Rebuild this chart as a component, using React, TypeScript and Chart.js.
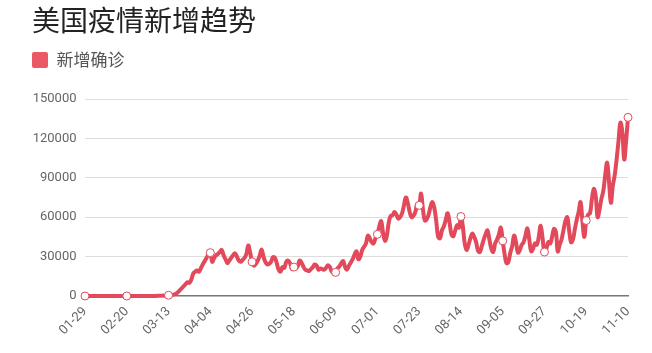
import React, { useEffect, useRef } from "react";
import { Chart, registerables } from "chart.js";

Chart.register(...registerables);

// Daily new confirmed cases (USA), 2020-01-29 .. 2020-11-10
const janStart = 29;
const jan = [0, 1, 1];
const feb = [0, 1, 0, 2, 0, 0, 0, 0, 1, 0, 0, 0, 0, 0, 0, 1, 0, 0, 0, 0, 2, 0, 0, 1, 0, 1, 3, 2, 7];
const mar = [12, 20, 22, 32, 70, 68, 110, 120, 200, 290, 280, 420, 550, 700, 800, 1300, 1800, 3000, 4500, 6000, 7500, 9000, 10500, 10000, 12500, 17000, 18500, 19500, 18500, 21000, 24000];
const apr = [26500, 29000, 31500, 33000, 26000, 29000, 31000, 32000, 33500, 35000, 31000, 28000, 25000, 27000, 29000, 31000, 32500, 30000, 27000, 26000, 27500, 29000, 32000, 38500, 33000, 26000, 23000, 24500, 27000, 30500];
const may = [35500, 30000, 26000, 24000, 24500, 26000, 29500, 29000, 25000, 20000, 18500, 22000, 21500, 26000, 27000, 25000, 20500, 22000, 21000, 22500, 27000, 25500, 22500, 20000, 19500, 19000, 20500, 22000, 24000, 23000, 20000];
const jun = [21000, 20500, 20000, 21500, 23500, 22000, 18500, 17500, 18000, 21000, 22500, 25000, 26500, 22000, 20000, 23000, 25500, 28000, 31500, 34000, 28000, 30000, 35000, 37500, 40000, 46000, 44000, 41000, 40000, 44000];
const jul = [47000, 53000, 57000, 48000, 42000, 46000, 56000, 61000, 61500, 64000, 62000, 59000, 60000, 63000, 69000, 75000, 71000, 64000, 60000, 61000, 64000, 70000, 69000, 78000, 66000, 57500, 58500, 62000, 68000, 71500, 67000];
const aug = [57000, 45000, 44000, 50000, 53000, 58000, 63000, 56000, 47000, 45500, 50000, 54000, 52000, 60500, 53000, 40000, 35000, 39000, 44000, 47500, 45000, 41000, 34500, 33500, 38000, 43000, 47000, 50000, 43000, 36000, 33500];
const sep = [40000, 43000, 47000, 52000, 42000, 32000, 25000, 26000, 33000, 38000, 46000, 41000, 33000, 35000, 39000, 41000, 46000, 51500, 43000, 34000, 36000, 40000, 39000, 45000, 53500, 44000, 33500, 36000, 41000, 40000];
const oct = [45000, 51000, 49000, 34000, 39000, 43000, 50000, 57000, 60000, 50000, 41000, 43000, 51000, 58000, 64000, 71500, 57000, 45000, 57500, 62000, 63000, 74000, 81500, 76000, 60000, 66000, 74000, 80000, 92000, 101500, 87000];
const nov = [71000, 84000, 92000, 104000, 118000, 132000, 125000, 104000, 118000, 136000];

const months: [number, number[]][] = [
  [1, jan], [2, feb], [3, mar], [4, apr], [5, may], [6, jun],
  [7, jul], [8, aug], [9, sep], [10, oct], [11, nov],
];

const pad = (n: number) => (n < 10 ? "0" + n : String(n));
const labels: string[] = [];
const values: number[] = [];
months.forEach(([m, arr]) => {
  const start = m === 1 ? janStart : 1;
  arr.forEach((v, i) => {
    labels.push(pad(m) + "-" + pad(start + i));
    values.push(v);
  });
});

const yTicks = [0, 30000, 60000, 90000, 120000, 150000];
const labelEvery = 22;

const titleText = "美国疫情新增趋势";
const seriesName = "新增确诊";

const LINE = "#e24a5b";
const FILL = "#ec5966";
const FONT = "Roboto, 'Noto Sans CJK SC', sans-serif";
const CJK = "'Noto Sans CJK SC', sans-serif";

export default function App() {
  const ref = useRef<HTMLCanvasElement | null>(null);
  useEffect(() => {
    if (!ref.current) return;
    const chart = new Chart(ref.current, {
      type: "line",
      data: {
        labels,
        datasets: [
          {
            label: seriesName,
            data: values,
            borderColor: LINE,
            backgroundColor: FILL,
            borderWidth: 4,
            tension: 0.4,
            fill: false,
            clip: 8,
            pointRadius: (ctx: any) => (ctx.dataIndex % labelEvery === 0 ? 4 : 0),
            pointHoverRadius: (ctx: any) => (ctx.dataIndex % labelEvery === 0 ? 4 : 0),
            pointBackgroundColor: "#ffffff",
            pointBorderColor: LINE,
            pointBorderWidth: 1,
          } as any,
        ],
      },
      options: {
        animation: false,
        responsive: false,
        layout: { padding: { left: 32, right: 24, top: 0, bottom: 0 } },
        plugins: {
          title: {
            display: true,
            text: titleText,
            align: "start",
            color: "#222",
            font: { family: CJK, size: 28, weight: "normal" as any },
            padding: { top: 3.2, bottom: 14.6 },
          },
          subtitle: {
            display: true,
            text: " ",
            weight: 500,
            font: { size: 10 },
            padding: { top: 8.6, bottom: 0 },
          } as any,
          legend: {
            display: true,
            align: "start",
            labels: {
              boxWidth: 16,
              boxHeight: 16,
              padding: 0,
              color: "#555",
              font: { family: CJK, size: 17 },
              useBorderRadius: true,
              borderRadius: 2,
              generateLabels: (c: any) =>
                Chart.defaults.plugins.legend.labels
                  .generateLabels(c)
                  .map((l: any) => ({ ...l, lineWidth: 0, fillStyle: FILL })),
            } as any,
          },
          tooltip: { enabled: false },
        },
        scales: {
          x: {
            type: "category",
            offset: false,
            grid: { display: false },
            border: { display: true, color: "#777", width: 1.5 },
            ticks: {
              autoSkip: false,
              maxRotation: 45,
              minRotation: 45,
              color: "#666",
              padding: 0,
              font: { family: FONT, size: 13 },
              callback: (_v: any, i: number) => (i % labelEvery === 0 ? labels[i] : null),
            },
            afterFit: (s: any) => {
              s.height = 57;
            },
          },
          y: {
            min: yTicks[0],
            max: yTicks[yTicks.length - 1],
            border: { display: false },
            grid: {
              drawTicks: false,
              color: (ctx: any) => (ctx.tick && ctx.tick.value === 0 ? "rgba(0,0,0,0)" : "#dddddd"),
              lineWidth: 1,
            },
            afterBuildTicks: (s: any) => {
              s.ticks = yTicks.map((v) => ({ value: v }));
            },
            ticks: {
              color: "#666",
              padding: 8.5,
              font: { family: FONT, size: 13 },
              callback: (v: any) => String(v),
            },
            afterFit: (s: any) => {
              s.width = 53;
            },
          },
        },
      } as any,
    });
    return () => chart.destroy();
  }, []);
  return (
    <canvas
      ref={ref}
      width={652}
      height={353}
      style={{ position: "fixed", left: 0, top: 0, display: "block" }}
    />
  );
}
